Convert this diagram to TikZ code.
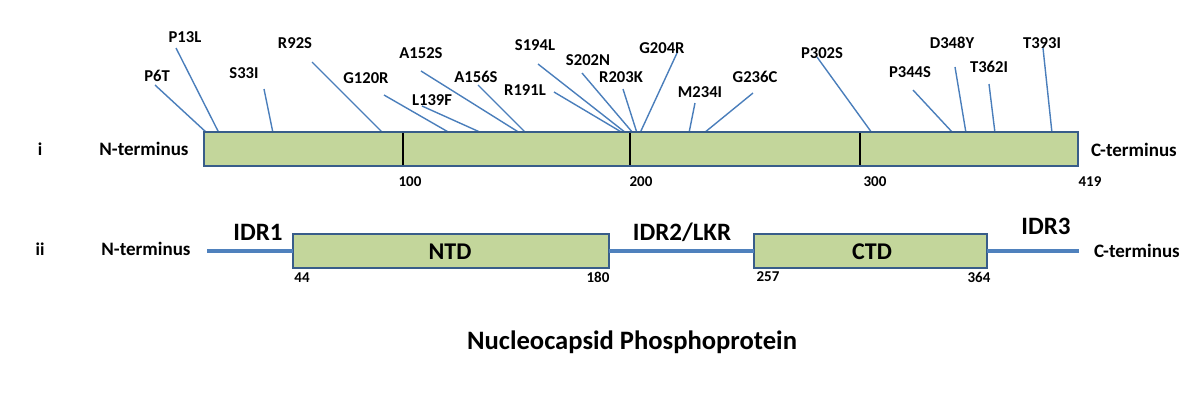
\documentclass[tikz,border=0pt]{standalone}
\usepackage{fontspec}
\setmainfont{Carlito}
\definecolor{boxfill}{HTML}{C3D69B}
\definecolor{boxline}{HTML}{385D8A}
\definecolor{mutline}{HTML}{4A7EBB}
\definecolor{linker}{HTML}{4F81BD}
\begin{document}
\begin{tikzpicture}[x=0.5pt,y=-0.5pt,
  mut/.style={font=\fontsize{8.3}{9}\selectfont\bfseries, inner sep=0pt},
  mutln/.style={draw=mutline, line width=0.7pt},
  term/.style={font=\fontsize{9.5}{10}\selectfont\bfseries, inner sep=0pt},
  roman/.style={font=\fontsize{9}{10}\selectfont\bfseries, inner sep=0pt},
  num/.style={font=\fontsize{7.5}{8}\selectfont\bfseries, inner sep=0pt},
  idr/.style={font=\fontsize{12.5}{14}\selectfont\bfseries, inner sep=0pt},
  dombox/.style={draw=boxline, fill=boxfill, line width=1pt, inner sep=0pt, outer sep=0pt,
     minimum height=17pt, font=\fontsize{12}{14}\selectfont\bfseries},
  divider/.style={draw=black, line width=0.9pt},
  linkln/.style={draw=linker, line width=2pt},
  title/.style={font=\fontsize{13.3}{15}\selectfont\bfseries, inner sep=0pt}
]
\useasboundingbox (0,0) rectangle (1200,404);
% ---- panel i ----
\foreach \n/\lx/\ly/\tx/\ty/\bx in {
  P6T/157/76/155/85/207,
  P13L/185/37/176/48/219,
  S33I/244/73/264/89/273,
  R92S/295/43/312/62/383,
  G120R/366/78/384/95/450,
  L139F/432/100/422/106/482,
  A152S/421/53/421/71/520,
  A156S/476/77/478/85/526,
  R191L/525/90/554/92/623,
  S194L/535/45/538/64/626,
  S202N/588/60/582/73/633,
  R203K/621/77/623/89/637,
  G204R/662/48/677/53/640,
  M234I/700/92/695/103/689,
  G236C/755/77/753/93/704,
  P302S/822/53/817/57/872,
  P344S/910/72/913/90/953,
  D348Y/952/43/955/67/966,
  T362I/989/67/989/84/995,
  T393I/1042/43/1043/48/1052}{
  \node[mut] (m\n) at (\lx,\ly) {\n};
  \coordinate (t\n) at (\tx,\ty);
  \coordinate (b\n) at (\bx,133);
  \draw[mutln] (t\n) -- (b\n);
}
\node[dombox, minimum width=437pt] (bar) at (641,149) {};
\foreach \dx/\lab in {403/100,630/200,860/300}{
  \coordinate (dt\lab) at (\dx,133);
  \coordinate (db\lab) at (\dx,165);
  \draw[divider] (dt\lab) -- (db\lab);
}
\node[roman] (ri) at (40,149) {i};
\node[term] (nti) at (144,149) {N-terminus};
\node[term] (cti) at (1134,150) {C-terminus};
\node[num] (n100) at (410,182) {100};
\node[num] (n200) at (641,182) {200};
\node[num] (n300) at (875,182) {300};
\node[num] (n419) at (1090,182) {419};
% ---- panel ii ----
\coordinate (lstart) at (207,251);
\coordinate (lend) at (1079,251);
\node[dombox, minimum width=158pt] (ntd) at (451,251) {};
\node[dombox, minimum width=116.5pt] (ctd) at (870.5,251) {};
\draw[linkln] (lstart) -- (ntd.west);
\draw[linkln] (ntd.east) -- (ctd.west);
\draw[linkln] (ctd.east) -- (lend);
\node[dombox, draw=none, fill=none, minimum height=0pt] (ntdl) at (450,252) {NTD};
\node[dombox, draw=none, fill=none, minimum height=0pt] (ctdl) at (872,252) {CTD};
\node[roman] (rii) at (40,249) {ii};
\node[term] (ntii) at (146,249) {N-terminus};
\node[term] (ctii) at (1137,251) {C-terminus};
\node[idr] (idr1) at (258,232) {IDR1};
\node[idr] (idr2) at (682,232) {IDR2/LKR};
\node[idr] (idr3) at (1046,226) {IDR3};
\node[num] (n44) at (302,278) {44};
\node[num] (n180) at (598,277) {180};
\node[num] (n257) at (768,277) {257};
\node[num] (n364) at (979,277) {364};
% ---- title ----
\node[title] (ttl) at (632,342) {Nucleocapsid Phosphoprotein};
\end{tikzpicture}
\end{document}
